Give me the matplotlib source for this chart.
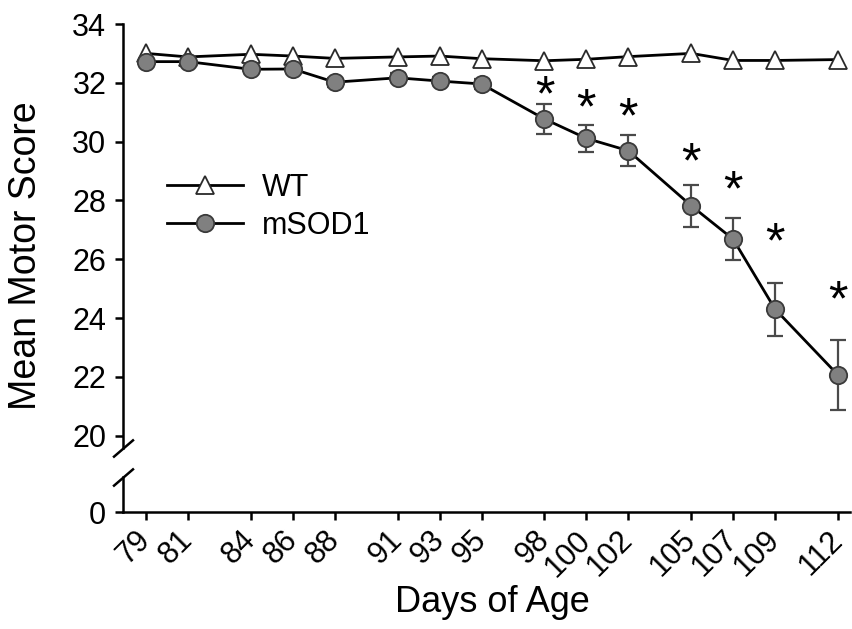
import matplotlib
matplotlib.use("Agg")
import matplotlib.pyplot as plt

plt.rcParams['font.family'] = ['Liberation Sans', 'DejaVu Sans']

days = [79, 81, 84, 86, 88, 91, 93, 95, 98, 100, 102, 105, 107, 109, 112]
wt_mean = [33.0, 32.88, 32.97, 32.91, 32.83, 32.88, 32.91, 32.82, 32.75, 32.80, 32.89, 33.0, 32.76, 32.76, 32.79]
sod_mean = [32.72, 32.72, 32.46, 32.47, 32.02, 32.17, 32.06, 31.96, 30.77, 30.11, 29.69, 27.82, 26.68, 24.30, 22.06]
sod_sem = [0.1, 0.1, 0.12, 0.12, 0.15, 0.15, 0.15, 0.18, 0.5, 0.45, 0.52, 0.72, 0.72, 0.9, 1.2]

# significance markers (day, height of the star)
star_days = [98, 100, 102, 105, 107, 109, 112]
star_y = [31.98, 31.53, 31.24, 29.71, 28.75, 26.99, 25.0]

W, H = 853, 629
fig = plt.figure(figsize=(W / 100, H / 100), dpi=100)

left = 123 / W
width = (850 - 123) / W
ax = fig.add_axes([left, 1 - 448 / H, width, (448 - 24) / H])
ax0 = fig.add_axes([left, 1 - 512 / H, width, (512 - 477) / H], sharex=ax)

xmin = 79 - (146 - 123) / 20.97
xmax = 112 + (850 - 838) / 20.97

ax.plot(days, wt_mean, color='black', lw=2, marker='^', ms=12.5,
        mfc='white', mec='#2a2a2a', mew=1.3, label='WT', zorder=3)
ax.errorbar(days, sod_mean, yerr=sod_sem, fmt='none', ecolor='#4a4a4a',
            elinewidth=1.6, capsize=6, capthick=1.6, zorder=2)
ax.plot(days, sod_mean, color='black', lw=2, marker='o', ms=12.5,
        mfc='#808080', mec='#3a3a3a', mew=1.3, label='mSOD1', zorder=4)

for d, y in zip(star_days, star_y):
    ax.annotate('*', (d, y), xytext=(0, -10), textcoords='offset points',
                ha='center', va='center', fontsize=36, color='black')

ax.set_xlim(xmin, xmax)
ax.set_ylim(34 - (448 - 24) / 29.4, 34)
ax.set_yticks(range(20, 35, 2))
ax0.set_ylim(0, (512 - 477) / 29.4)
ax0.set_yticks([0])

for a in (ax, ax0):
    a.spines['top'].set_visible(False)
    a.spines['right'].set_visible(False)
    a.spines['left'].set_linewidth(1.8)
    a.spines['bottom'].set_linewidth(1.8)
    a.tick_params(axis='both', direction='out', length=6, width=1.8,
                  labelsize=22, pad=6)
ax.spines['bottom'].set_visible(False)
ax.tick_params(axis='x', bottom=False, labelbottom=False)

ax0.set_xticks(days)
ax0.set_xticklabels([str(d) for d in days], rotation=45, ha='right',
                    va='center', rotation_mode='anchor')
ax0.tick_params(axis='x', pad=11)

# break marks on the y axis
brk = dict(marker=[(-1, -0.86), (1, 0.86)], markersize=15, linestyle='none',
           color='black', mec='black', mew=1.8, clip_on=False)
ax.plot([0], [0], transform=ax.transAxes, **brk)
ax0.plot([0], [1], transform=ax0.transAxes, **brk)

ax.set_ylabel('Mean Motor Score', fontsize=27)
ax.yaxis.set_label_coords((44 - 123) / (850 - 123), (448 - 256) / (448 - 24))
ax0.set_xlabel('Days of Age', fontsize=26)
ax0.xaxis.set_label_coords((492 - 123) / (850 - 123), (512 - 603) / (512 - 477))
ax0.xaxis.label.set_va('center')

leg = ax.legend(loc='upper left', bbox_to_anchor=(167 / W, 1 - 173 / H),
                bbox_transform=fig.transFigure, frameon=False, fontsize=22,
                handlelength=2.5, handletextpad=0.6, labelspacing=0.25,
                borderpad=0, borderaxespad=0)

fig.savefig('out.png', dpi=100)
